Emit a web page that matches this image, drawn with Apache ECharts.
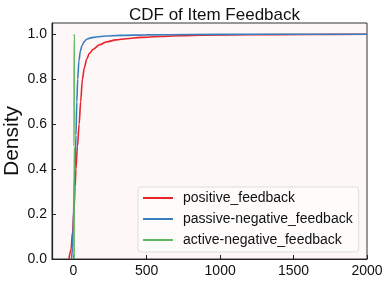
<!DOCTYPE html>
<html>
<head>
<meta charset="utf-8">
<script src="https://cdn.jsdelivr.net/npm/echarts@6/dist/echarts.min.js"></script>
<style>
html,body{margin:0;padding:0;background:#fff;}
#chart{width:391px;height:282px;}
</style>
</head>
<body>
<div id="chart"></div>
<script>
var seriesNames = ['positive_feedback', 'passive-negative_feedback', 'active-negative_feedback'];
var posX = [-30, -16, -5, 5, 12, 18, 28, 40, 50, 62, 75, 91, 110, 136, 175, 227, 290, 363, 460, 590, 860, 1200, 1600, 2000];
var posY = [0, 0.04, 0.12, 0.22, 0.32, 0.4, 0.5, 0.6, 0.7, 0.8, 0.85, 0.889, 0.915, 0.933, 0.952, 0.966, 0.975, 0.98, 0.986, 0.99, 0.996, 0.998, 0.999, 1.0];
var pasX = [-12, -5, 0, 5, 12, 18, 24, 30, 38, 48, 60, 75, 91, 120, 159, 220, 320, 500, 800, 1200, 2000];
var pasY = [0, 0.05, 0.15, 0.28, 0.4, 0.55, 0.7, 0.8, 0.88, 0.925, 0.95, 0.967, 0.978, 0.984, 0.988, 0.992, 0.995, 0.997, 0.999, 1.0, 1.0];
var actX = [5, 5.5, 6, 7, 10];
var actY = [0, 0.5, 0.99, 1.0, 1.002];
var xTicks = [0, 500, 1000, 1500, 2000];
var yTicks = [0, 0.2, 0.4, 0.6, 0.8, 1.0];
var colors = ['#e8242a', '#3a7fbd', '#5cb85a'];

function pairs(xs, ys) { return xs.map(function (x, i) { return [x, ys[i]]; }); }
var dataSets = [pairs(posX, posY), pairs(pasX, pasY), pairs(actX, actY)];

var chart = echarts.init(document.getElementById('chart'), null, {renderer: 'canvas'});
var font = 'Liberation Sans, Arial, sans-serif';
chart.setOption({
  animation: false,
  title: {
    text: 'CDF of Item Feedback', left: 209.5, textAlign: 'center', top: 2,
    textStyle: {fontFamily: font, fontSize: 17, fontWeight: 'normal', color: '#111'}
  },
  grid: {left: 52, right: 24, top: 23, bottom: 23, containLabel: false, outerBoundsMode: 'none',
    show: true, backgroundColor: '#fdf8f7', borderColor: '#333', borderWidth: 1},
  legend: {
    orient: 'vertical', left: 138, top: 187,
    data: seriesNames,
    icon: 'rect', itemWidth: 30, itemHeight: 2, itemGap: 7,
    padding: [4, 6, 5, 5],
    backgroundColor: '#fefbfb', borderColor: '#dddddd', borderWidth: 1, borderRadius: 3,
    textStyle: {fontFamily: font, fontSize: 14, color: '#111', padding: [0, 0, 0, 5], lineHeight: 14}
  },
  xAxis: {
    type: 'value', min: -145, max: 2000,
    splitLine: {show: false},
    axisLine: {show: true, onZero: false, lineStyle: {color: '#222', width: 1.2}},
    axisTick: {show: true, inside: true, length: 4, customValues: xTicks, lineStyle: {color: '#222'}},
    axisLabel: {customValues: xTicks, margin: 5, fontFamily: font, fontSize: 14, color: '#111',
      formatter: function (v) { return String(v); }}
  },
  yAxis: {
    type: 'value', min: 0, max: 1.05,
    name: 'Density', nameLocation: 'middle', nameGap: 29, nameMoveOverlap: false,
    nameTextStyle: {fontFamily: font, fontSize: 21, color: '#111'},
    splitLine: {show: false},
    axisLine: {show: true, onZero: false, lineStyle: {color: '#222', width: 1.2}},
    axisTick: {show: true, inside: true, length: 4, customValues: yTicks, lineStyle: {color: '#222'}},
    axisLabel: {customValues: yTicks, margin: 5, fontFamily: font, fontSize: 14, color: '#111',
      formatter: function (v) { return v.toFixed(1); }}
  },
  series: seriesNames.map(function (n, i) {
    return {
      name: n, type: 'line', data: dataSets[i], showSymbol: false, symbol: 'none',
      smooth: 0.3, smoothMonotone: 'x',
      lineStyle: {color: colors[i], width: 1.6}, itemStyle: {color: colors[i]},
      clip: true, z: 2 + i
    };
  })
});
</script>
</body>
</html>
